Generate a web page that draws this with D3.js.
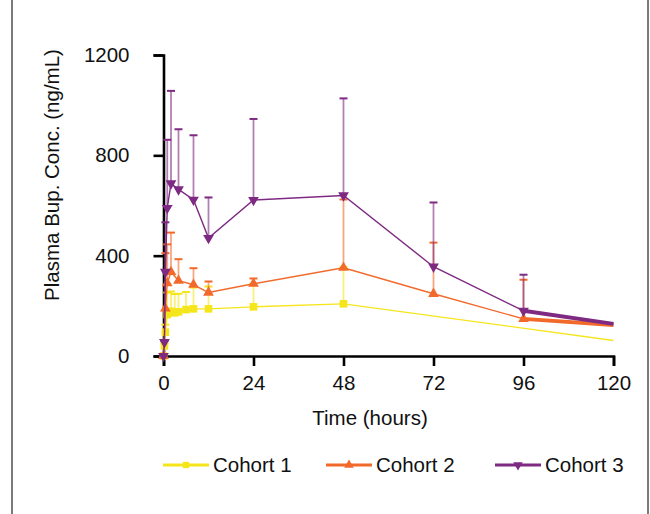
<!DOCTYPE html>
<html>
<head>
<meta charset="utf-8">
<script src="https://cdn.jsdelivr.net/npm/d3@7"></script>
<style>
  body { margin: 0; background: white; }
  text { font-family: "Liberation Sans", Arial, sans-serif; fill: #111; }
</style>
</head>
<body>
<div id="graf"></div>
<script>
// Datos: horas, concentración media y desviación (barra superior)
const horas1 = [0, 0.25, 0.5, 1, 2, 3, 4, 6, 8, 12, 24, 48, 120]
const conc1 = [0, 40, 95, 165, 178, 172, 176, 185, 188, 188, 196, 208, 62]
const de1 = [0, 10, 30, 88, 79, 75, 72, 70, 85, 89, 92, 147, null]

const horas2 = [0, 0.5, 1, 2, 4, 8, 12, 24, 48, 72, 96, 120]
const conc2 = [0, 190, 290, 335, 300, 284, 253, 288, 352, 248, 148, 124]
const de2 = [0, 220, 155, 157, 86, 66, 44, 21, 272, 204, 156, null]

const horas3 = [0, 0.25, 0.5, 1, 2, 4, 8, 12, 24, 48, 72, 96, 120]
const conc3 = [0, 55, 335, 590, 688, 664, 623, 470, 622, 640, 356, 180, 128]
const de3 = [0, 5, 198, 272, 369, 240, 257, 162, 323, 387, 256, 144, null]

const cohortes = ['Cohort 1', 'Cohort 2', 'Cohort 3']
const ticksX = [0, 24, 48, 72, 96, 120]
const ticksY = [0, 400, 800, 1200]

// Estilos por cohorte
const estilos = [
  { color: '#f5e61c', simbolo: d3.symbolSquare, tam: 58, giro: 0, anchoFinal: 1.4 },
  { color: '#f26a2b', simbolo: d3.symbolTriangle, tam: 50, giro: 0, anchoFinal: 4 },
  { color: '#7e2a82', simbolo: d3.symbolTriangle, tam: 50, giro: 180, anchoFinal: 4 }
]

const series = [
  horas1.map((h, i) => ({ h, c: conc1[i], de: de1[i] })),
  horas2.map((h, i) => ({ h, c: conc2[i], de: de2[i] })),
  horas3.map((h, i) => ({ h, c: conc3[i], de: de3[i] }))
]

const draw = () => {
  const anchoTotal = 650
  const altoTotal = 514

  const svg = d3.select('#graf')
    .append('svg')
    .attr('width', anchoTotal)
    .attr('height', altoTotal)

  // Marco
  svg.append('rect')
    .attr('x', 12)
    .attr('y', -2)
    .attr('width', 636)
    .attr('height', altoTotal + 4)
    .attr('fill', 'none')
    .attr('stroke', '#222')
    .attr('stroke-width', 1.2)

  // Escaladores
  const x = d3.scaleLinear().domain([0, 120]).range([163.5, 613.5])
  const y = d3.scaleLinear().domain([0, 1200]).range([356, 55])

  // Ejes
  const xAxisGroup = svg.append('g')
    .attr('transform', `translate(0, ${y(0)})`)
    .call(d3.axisBottom(x).tickValues(ticksX).tickSize(10).tickPadding(9))

  const yAxisGroup = svg.append('g')
    .attr('transform', `translate(${x(0)}, 0)`)
    .call(d3.axisLeft(y).tickValues(ticksY).tickFormat(d3.format('d')).tickSize(10).tickPadding(24))

  ;[xAxisGroup, yAxisGroup].forEach(g => {
    g.selectAll('path, line').attr('stroke', '#000').attr('stroke-width', 2.6)
    g.selectAll('text')
      .attr('fill', '#111')
      .style('font-size', '20.5px')
      .style('font-family', '"Liberation Sans", Arial, sans-serif')
  })

  // Series
  const linea = d3.line().x(d => x(d.h)).y(d => y(d.c))

  series.forEach((data, k) => {
    const est = estilos[k]
    const g = svg.append('g')

    // Barras de error (solo superior)
    const conError = data.filter(d => d.de !== null && d.de > 0)
    g.selectAll('.tallo')
      .data(conError)
      .join('line')
      .attr('x1', d => x(d.h))
      .attr('x2', d => x(d.h))
      .attr('y1', d => y(d.c))
      .attr('y2', d => y(d.c + d.de))
      .attr('stroke', est.color)
      .attr('stroke-opacity', 0.6)
      .attr('stroke-width', 1.8)

    g.selectAll('.tapa')
      .data(conError)
      .join('line')
      .attr('x1', d => x(d.h) - 4)
      .attr('x2', d => x(d.h) + 4)
      .attr('y1', d => y(d.c + d.de))
      .attr('y2', d => y(d.c + d.de))
      .attr('stroke', est.color)
      .attr('stroke-width', 2)

    // Linea principal y tramo final
    g.append('path')
      .datum(data.slice(0, -1))
      .attr('d', linea)
      .attr('fill', 'none')
      .attr('stroke', est.color)
      .attr('stroke-width', 1.4)

    g.append('path')
      .datum(data.slice(-2))
      .attr('d', linea)
      .attr('fill', 'none')
      .attr('stroke', est.color)
      .attr('stroke-width', est.anchoFinal)

    // Marcadores
    g.selectAll('.marca')
      .data(data.slice(0, -1))
      .join('path')
      .attr('d', d3.symbol().type(est.simbolo).size(est.tam))
      .attr('transform', d => `translate(${x(d.h)}, ${y(d.c)}) rotate(${est.giro})`)
      .attr('fill', est.color)
  })

  // Títulos de ejes
  svg.append('text')
    .text('Time (hours)')
    .attr('x', 370)
    .attr('y', 425)
    .attr('text-anchor', 'middle')
    .style('font-size', '20.5px')

  svg.append('text')
    .text('Plasma Bup. Conc. (ng/mL)')
    .attr('transform', 'translate(59, 175) rotate(-90)')
    .attr('text-anchor', 'middle')
    .style('font-size', '20.5px')

  // Leyenda
  const leyendaX = [163, 326, 495]
  const leyenda = svg.selectAll('.leyenda')
    .data(cohortes)
    .join('g')
    .attr('transform', (d, i) => `translate(${leyendaX[i]}, 465)`)

  leyenda.append('line')
    .attr('x1', 0)
    .attr('x2', 46)
    .attr('stroke', (d, i) => estilos[i].color)
    .attr('stroke-width', 3)

  leyenda.append('path')
    .attr('d', (d, i) => d3.symbol().type(estilos[i].simbolo).size(40)())
    .attr('transform', (d, i) => `translate(23, 0) rotate(${estilos[i].giro})`)
    .attr('fill', (d, i) => estilos[i].color)

  leyenda.append('text')
    .text(d => d)
    .attr('x', 50)
    .attr('y', 7)
    .style('font-size', '20.5px')
}

draw()
</script>
</body>
</html>
